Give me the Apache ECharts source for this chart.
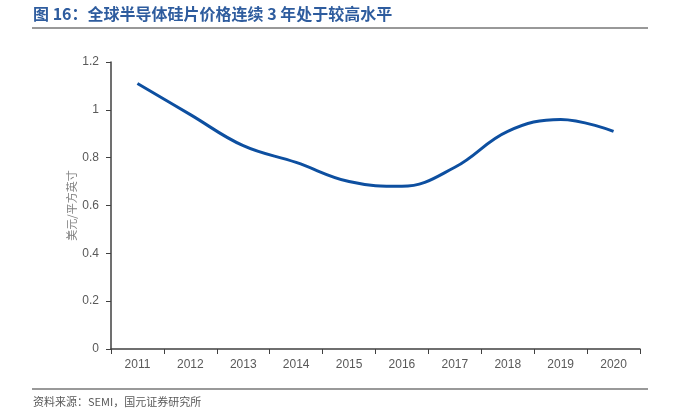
<!DOCTYPE html>
<html><head><meta charset="utf-8">
<script src="https://cdn.jsdelivr.net/npm/echarts@6/dist/echarts.min.js"></script>
<style>html,body{margin:0;padding:0;background:#fff}#c{width:678px;height:411px}</style>
</head><body><div id="c"></div>
<script>
const years = ['2011','2012','2013','2014','2015','2016','2017','2018','2019','2020'];
const prices = [1.11, 0.98, 0.85, 0.78, 0.70, 0.68, 0.76, 0.91, 0.96, 0.91];
const titleText = '图 16：全球半导体硅片价格连续 3 年处于较高水平';
const sourceText = '资料来源：SEMI，国元证券研究所';
const yName = '美元/平方英寸';

const chart = echarts.init(document.getElementById('c'));
chart.setOption({
  animation: false,
  grid: {left: 111, right: 38, top: 62, bottom: 62},
  xAxis: {
    type: 'category', data: years, boundaryGap: true,
    axisLine: {lineStyle: {color: '#404040', width: 1.5}},
    axisTick: {show: true, length: 5, lineStyle: {color: '#404040'}},
    axisLabel: {color: '#595959', fontSize: 12, fontFamily: 'Liberation Sans, Arial', margin: 10}
  },
  yAxis: {
    type: 'value', min: 0, max: 1.2, interval: 0.2,
    name: yName, nameLocation: 'middle', nameGap: 34, nameRotate: 90, nameMoveOverlap: false,
    nameTextStyle: {color: '#808080', fontSize: 11, fontFamily: 'Noto Sans CJK SC'},
    axisLine: {show: true, lineStyle: {color: '#404040', width: 1.5}},
    axisTick: {show: true, length: 5, inside: false, lineStyle: {color: '#404040'}},
    splitLine: {show: false},
    axisLabel: {color: '#595959', fontSize: 12, fontFamily: 'Liberation Sans, Arial', margin: 12,
      formatter: v => String(Math.round(v*10)/10)}
  },
  series: [{
    type: 'line', data: prices, smooth: 0.4, symbol: 'none',
    lineStyle: {color: '#0D4FA0', width: 3}
  }],
  graphic: [
    {type: 'text', left: 33, top: 6, style: {text: titleText, fill: '#2E5C9E', font: 'bold 16px "Noto Sans CJK SC"'}},
    {type: 'line', shape: {x1: 32, y1: 28, x2: 648, y2: 28}, style: {stroke: '#333', lineWidth: 1}},
    {type: 'line', shape: {x1: 32, y1: 389, x2: 648, y2: 389}, style: {stroke: '#777', lineWidth: 1.5}},
    {type: 'text', left: 33, top: 396, style: {text: sourceText, fill: '#595959', font: '11px "Noto Sans CJK SC"'}}
  ]
});
</script></body></html>
